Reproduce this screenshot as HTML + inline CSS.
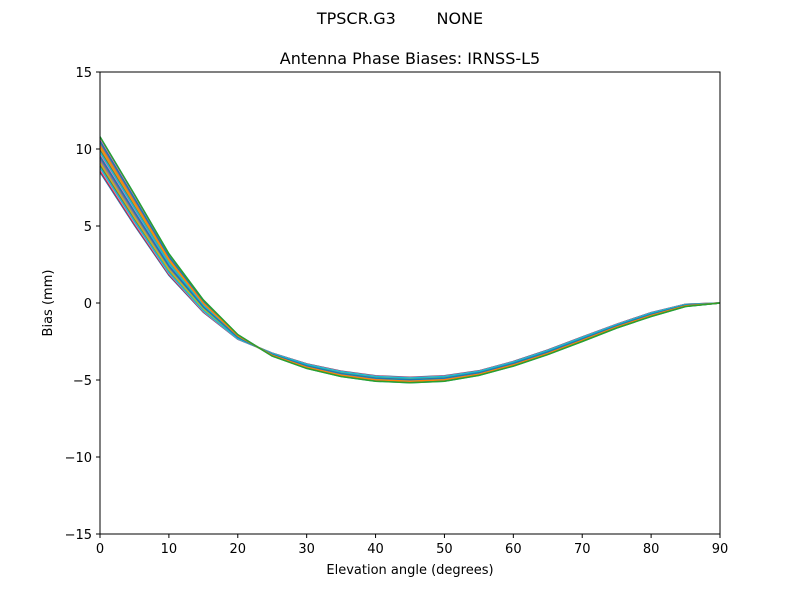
<!DOCTYPE html>
<html><head><meta charset="utf-8"><style>
html,body{margin:0;padding:0;background:#fff;}
svg text{font-family:"DejaVu Sans","Liberation Sans",sans-serif;fill:#000;}
</style></head><body>
<svg id="s" width="800" height="600" xmlns="http://www.w3.org/2000/svg">
<rect width="800" height="600" fill="#fff"/>
<text x="400" y="24" font-size="16" text-anchor="middle">TPSCR.G3&#160;&#160;&#160;&#160;&#160;&#160;&#160;&#160;NONE</text>
<text x="410" y="64" font-size="16" text-anchor="middle">Antenna Phase Biases: IRNSS-L5</text>
<g id="lines"></g>
<rect x="100" y="72" width="620" height="462" fill="none" stroke="#000" stroke-width="1"/>
<g id="ticks" font-size="13"></g>
<text x="410" y="574" font-size="13" text-anchor="middle">Elevation angle (degrees)</text>
<text x="52" y="303" font-size="13" text-anchor="middle" transform="rotate(-90 52 303)">Bias (mm)</text>
</svg>
<script>
var X=function(e){return 100+e*620/90;},Y=function(v){return 303-v*15.4;};
var ns="http://www.w3.org/2000/svg",t=document.getElementById('ticks');
function el(n,a,p,txt){var e=document.createElementNS(ns,n);for(var k in a)e.setAttribute(k,a[k]);if(txt!==undefined)e.textContent=txt;p.appendChild(e);return e;}
for(var e=0;e<=90;e+=10){var x=X(e);el('line',{x1:x,x2:x,y1:534,y2:538,stroke:'#000'},t);el('text',{x:x,y:553,'text-anchor':'middle'},t,e);}
for(var v=-15;v<=15;v+=5){var y=Y(v);el('line',{x1:96,x2:100,y1:y,y2:y,stroke:'#000'},t);el('text',{x:92,y:y+5,'text-anchor':'end'},t,v<0?'\u2212'+(-v):v);}
var m=[9.65,6.05,2.5,-0.2,-2.2,-3.35,-4.1,-4.6,-4.9,-5.0,-4.9,-4.55,-3.95,-3.2,-2.35,-1.5,-0.75,-0.15,0];
var s=[2.3,2.0,1.4,0.8,0.3,-0.2,-0.3,-0.35,-0.35,-0.35,-0.35,-0.3,-0.3,-0.3,-0.3,-0.25,-0.25,-0.15,0];
var c=['#1f77b4','#ff7f0e','#2ca02c','#d62728','#9467bd','#8c564b','#e377c2','#7f7f7f','#bcbd22','#17becf'];
var g=document.getElementById('lines'),N=24,order=[];
for(var i=0;i<N;i++)order.push(i);
order.sort(function(a,b){return ((a*7)%N)-((b*7)%N);});
order.push(N-1);
order.forEach(function(i,k){var tt=i/(N-1),pts=[];
 for(var j=0;j<19;j++)pts.push(X(j*5).toFixed(1)+','+Y(m[j]+(tt-0.5)*s[j]).toFixed(1));
 var col=(k==order.length-1)?'#2ca02c':c[(i*3)%10];
 el('polyline',{points:pts.join(' '),fill:'none',stroke:col,'stroke-width':1.5},g);});
</script>
</body></html>
